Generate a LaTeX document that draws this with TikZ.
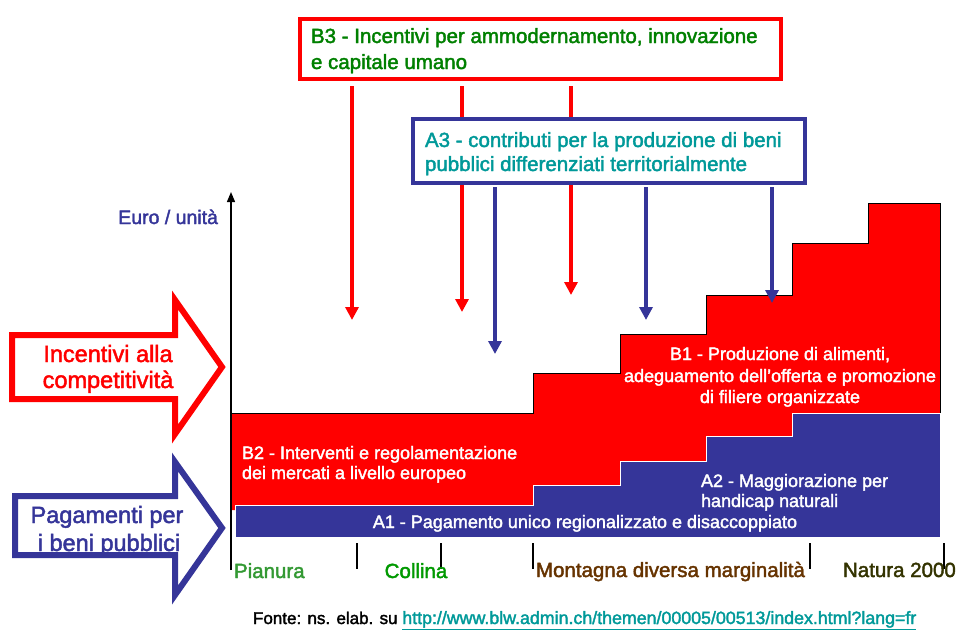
\documentclass[tikz,border=0pt]{standalone}
\usepackage{fontspec}
\setmainfont{Liberation Sans}[FakeBold=2]
\usetikzlibrary{arrows.meta}
\definecolor{myred}{RGB}{255,0,0}
\definecolor{myblue}{RGB}{53,53,153}
\definecolor{bgreen}{RGB}{0,128,0}
\definecolor{tealtx}{RGB}{0,153,153}
\definecolor{pgreen}{RGB}{51,153,51}
\definecolor{cgreen}{RGB}{0,153,0}
\definecolor{browntx}{RGB}{102,51,0}
\definecolor{olivetx}{RGB}{51,51,0}
\begin{document}
\begin{tikzpicture}[x=1pt,y=-1pt,
  txt/.style={inner sep=0pt, outer sep=0pt},
  bigf/.style={font=\fontsize{20.5}{24}\selectfont},
  midf/.style={font=\fontsize{18}{21}\selectfont},
  arrf/.style={font=\fontsize{23.5}{27}\selectfont},
  redarr/.style={draw=myred, line width=4pt, -{Triangle[width=13pt,length=13pt]}},
  bluearr/.style={draw=myblue, line width=4pt, -{Triangle[width=13pt,length=13pt]}},
  tickl/.style={draw=black, line width=1.2pt},
  bigarrow/.style={line width=6pt, line join=miter, fill=white}]
\useasboundingbox (0,0) rectangle (958,629);

% staircase
\fill[myred] (231,413) -- (533,413) -- (533,373) -- (620,373) -- (620,334) -- (706,334) -- (706,295) -- (792,295) -- (792,243) -- (868,243) -- (868,203) -- (940,203) -- (940,510) -- (231,510) -- cycle;
\draw[black, line width=1pt] (231,413) -- (533,413) -- (533,373) -- (620,373) -- (620,334) -- (706,334) -- (706,295) -- (792,295) -- (792,243) -- (868,243) -- (868,203) -- (940,203) -- (940,413);
\filldraw[fill=myblue, draw=white, line width=0.8pt] (235,505) -- (533,505) -- (533,485) -- (620,485) -- (620,461) -- (706,461) -- (706,436) -- (792,436) -- (792,413) -- (940,413) -- (940,537) -- (235,537) -- cycle;

% axis
\coordinate (ax0) at (231,570);
\coordinate (ax1) at (231,192);
\draw[line width=1.3pt, -{Triangle[width=8pt,length=10pt]}] (ax0) -- (ax1);
\foreach \tx [count=\i] in {357,441,533,810,944}
  \draw[tickl] (\tx,543) -- (\tx,569);

% B3 box
\node[draw=myred, line width=4pt, fill=white, minimum width=481pt, minimum height=60pt, anchor=north west, inner sep=0pt] (b3) at (298,17) {};
\node[txt, bigf, text=bgreen, anchor=base west] (b3l1) at (311,43) {B3 - Incentivi per ammodernamento, innovazione};
\node[txt, bigf, text=bgreen, anchor=base west] (b3l2) at (311,69) {e capitale umano};

% red arrows
\coordinate (r1s) at (352,86); \coordinate (r1e) at (352,320);
\coordinate (r2s) at (462,86); \coordinate (r2e) at (462,312);
\coordinate (r3s) at (571,86); \coordinate (r3e) at (571,295);
\draw[redarr] (r1s) -- (r1e);
\draw[redarr] (r2s) -- (r2e);
\draw[redarr] (r3s) -- (r3e);

% A3 box
\node[draw=myblue, line width=4pt, fill=white, minimum width=391.5pt, minimum height=64pt, anchor=north west, inner sep=0pt] (a3) at (411,117) {};
\node[txt, bigf, text=tealtx, anchor=base west] (a3l1) at (425,147) {A3 - contributi per la produzione di beni};
\node[txt, bigf, text=tealtx, anchor=base west] (a3l2) at (425,171) {pubblici differenziati territorialmente};

% blue arrows
\coordinate (b1s) at (495,187); \coordinate (b1e) at (495,354);
\coordinate (b2s) at (646,187); \coordinate (b2e) at (646,320);
\coordinate (b3s) at (772,187); \coordinate (b3e) at (772,303);
\draw[bluearr] (b1s) -- (b1e);
\draw[bluearr] (b2s) -- (b2e);
\draw[bluearr] (b3s) -- (b3e);

% texts in staircase
\node[txt, midf, text=white, anchor=base west] (b2t1) at (242,459) {B2 - Interventi e regolamentazione};
\node[txt, midf, text=white, anchor=base west] (b2t2) at (242,479) {dei mercati a livello europeo};
\node[txt, midf, text=white, anchor=base] (a1t) at (585,528) {A1 - Pagamento unico regionalizzato e disaccoppiato};
\node[txt, midf, text=white, anchor=base west] (a2t1) at (701,487) {A2 - Maggiorazione per};
\node[txt, midf, text=white, anchor=base west] (a2t2) at (701,507) {handicap naturali};
\node[txt, midf, text=white, anchor=base] (b1t1) at (780,360) {B1 - Produzione di alimenti,};
\node[txt, midf, text=white, anchor=base] (b1t2) at (780,382) {adeguamento dell'offerta e promozione};
\node[txt, midf, text=white, anchor=base] (b1t3) at (780,403) {di filiere organizzate};

% big left arrows
\draw[bigarrow, draw=myred] (12,335) -- (175,335) -- (175,300) -- (222,367) -- (175,434) -- (175,399) -- (12,399) -- cycle;
\draw[bigarrow, draw=myblue] (15,496) -- (175,496) -- (175,462) -- (222,528) -- (175,595) -- (175,555) -- (15,555) -- cycle;
\node[txt, arrf, text=myred, anchor=base] (inc1) at (108,362) {Incentivi alla};
\node[txt, arrf, text=myred, anchor=base] (inc2) at (108,388) {competitività};
\node[txt, arrf, text=myblue, anchor=base] (pag1) at (107,523) {Pagamenti per};
\node[txt, arrf, text=myblue, anchor=base] (pag2) at (109,551) {i beni pubblici};

% axis labels
\node[txt, font=\fontsize{19.5}{23}\selectfont, text=myblue, anchor=base east] (euro) at (218,224) {Euro / unità};
\node[txt, bigf, text=pgreen, anchor=base west] (pian) at (234,578) {Pianura};
\node[txt, bigf, text=cgreen, anchor=base] (coll) at (416,578) {Collina};
\node[txt, bigf, text=browntx, anchor=base west] (mont) at (536,577) {Montagna diversa marginalità};
\node[txt, bigf, text=olivetx, anchor=base west] (nat) at (843,577) {Natura 2000};

% source
\node[txt, font=\fontsize{17}{20}\selectfont, anchor=base west] (fonte) at (253,624) {Fonte: ns. elab. su {\fontsize{17.8}{20}\selectfont\textcolor{tealtx}{\underline{http://www.blw.admin.ch/themen/00005/00513/index.html?lang=fr}}}};
\end{tikzpicture}
\end{document}
